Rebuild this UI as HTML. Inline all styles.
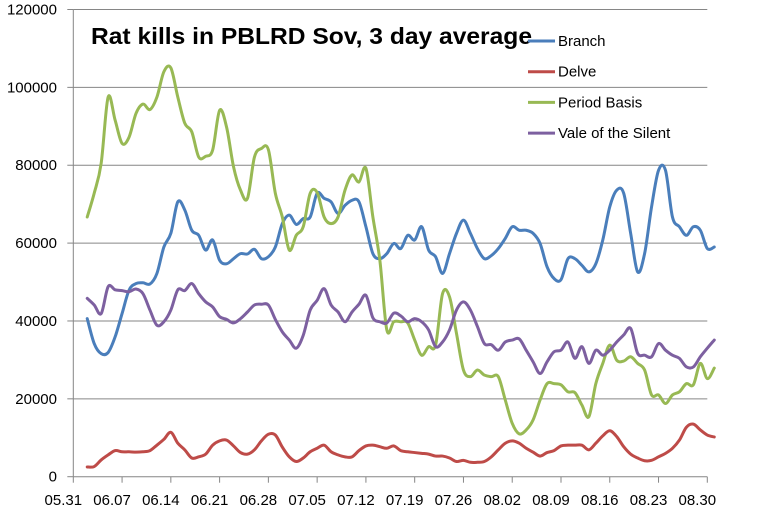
<!DOCTYPE html>
<html><head><meta charset="utf-8"><style>
body{margin:0;background:#fff;}
svg{display:block;font-family:"Liberation Sans",sans-serif;}
</style></head><body>
<svg id="chart" width="761" height="515" viewBox="0 0 761 515" xmlns="http://www.w3.org/2000/svg">
<rect width="761" height="515" fill="#fff"/>
<g id="grid"></g><g id="axes"></g><g id="series"></g>
<text x="91" y="44" font-size="23" font-weight="bold" textLength="441" lengthAdjust="spacingAndGlyphs" fill="#000">Rat kills in PBLRD Sov, 3 day average</text>
<g id="legend"></g>
</svg>
<script>
const seriesNames = ["Branch","Delve","Period Basis","Vale of the Silent"];
const seriesColors = ["#4a7ebb","#be4b48","#98b954","#7d60a0"];
const yTicks = [0,20000,40000,60000,80000,100000,120000];
const xTickLabels = ["05.31","06.07","06.14","06.21","06.28","07.05","07.12","07.19","07.26","08.02","08.09","08.16","08.23","08.30"];
const startOffsetDays = 2; // first point is 06.02
const branch = [40600,34200,31600,31900,35900,41900,47900,49600,49800,49500,52200,59000,62500,70600,68500,63300,62000,58200,60800,55600,54700,56000,57300,57200,58400,56000,56500,59000,65000,67200,64800,66300,66700,72800,71500,70600,67600,69700,71000,70600,64200,57300,56000,57300,59900,58600,62000,60800,64200,58200,56500,52200,57300,62500,65900,62500,58600,56000,56800,58600,61200,64200,63300,63300,62500,59900,53900,50900,50600,56000,56000,54300,52600,54700,60800,69300,73600,72800,62500,52600,57300,69300,78700,78700,66700,64200,62000,64200,63300,58600,59000];
const delve = [2500,2600,4300,5600,6700,6400,6400,6300,6400,6700,8100,9600,11400,8600,6900,4800,5100,5800,8100,9200,9400,7900,6200,5800,6900,9200,10900,10700,7600,5100,3900,4800,6400,7300,8100,6400,5600,5100,5100,6700,7900,8100,7700,7300,7900,6700,6400,6200,6000,5800,5300,5300,4800,3900,4200,3700,3700,3900,5100,6900,8600,9200,8600,7300,6300,5300,6200,6700,7900,8100,8100,8100,6900,8600,10500,11800,10300,7700,5800,4800,4100,4200,5100,6000,7300,9400,12700,13500,12000,10700,10200];
const periodBasis = [66700,72800,80500,97500,91600,85600,87200,93300,95700,94300,97500,104000,105000,97500,90800,88600,82100,82300,83900,94100,89800,79600,73600,71500,82100,84300,84000,72800,66700,58200,62000,64200,72800,73000,66700,65000,66700,73600,77500,75700,79200,66700,55600,37700,39800,39800,39500,35100,31200,33400,33800,47000,46200,36800,27400,25700,27400,26100,25700,25700,19700,13700,11000,12000,14600,19700,23900,23900,23600,21800,21600,18400,15400,23900,29100,33800,29900,29700,30800,29100,27400,21000,21000,18800,21000,21800,23900,23600,29100,25200,27900];
const vale = [45800,44100,41900,48800,48000,47800,47500,48200,47000,42800,38900,39800,42800,48000,47800,49600,47000,44900,43600,41100,40400,39500,40600,42300,44100,44300,44100,40400,37200,35100,33000,36300,42800,45300,48300,44100,42300,39800,42300,44300,46600,40800,39800,39500,42000,41300,39800,40600,39800,37700,33400,34600,37700,42800,44900,42800,38600,34200,33900,32500,34600,35100,35400,32500,29500,26500,29500,32100,32500,34600,30400,33400,29100,32500,31200,32500,34600,36400,38100,31700,31200,30800,34200,32500,31200,30400,28200,28200,30800,33000,35100];
const allSeries = [branch, delve, periodBasis, vale];

const NS="http://www.w3.org/2000/svg";
const X0=73.3, X1=707.3, Y0=476.7, Y1=9.5, YMAX=120000;
const pxPerDay=(X1-X0)/91;
function xScale(day){return X0+day*pxPerDay;}
function yScale(v){return Y0-(v/YMAX)*(Y0-Y1);}
function mk(tag,attrs,parent){const e=document.createElementNS(NS,tag);for(const k in attrs)e.setAttribute(k,attrs[k]);parent.appendChild(e);return e;}

const grid=document.getElementById('grid'), axes=document.getElementById('axes'), ser=document.getElementById('series'), leg=document.getElementById('legend');
yTicks.forEach(t=>{
  const y=yScale(t);
  if(t>0){const l=mk('line',{x1:X0,x2:X1,y1:y,y2:y,stroke:'#868686','stroke-width':1},grid);
  
  }
  const tk=mk('line',{x1:X0-6,x2:X0,y1:y,y2:y,stroke:'#868686'},axes);
  
  
  const tx=mk('text',{x:57,y:y+5,'text-anchor':'end','font-size':15,fill:'#000'},axes);
  tx.textContent=t;
  
  
});
const ya=mk('line',{x1:X0,x2:X0,y1:Y1,y2:Y0,stroke:'#868686'},axes);


const xa=mk('line',{x1:X0,x2:X1,y1:Y0,y2:Y0,stroke:'#868686'},axes);


xTickLabels.forEach((lab,k)=>{
  const x=xScale(k*7);
  const tk=mk('line',{x1:x,x2:x,y1:Y0,y2:Y0+6,stroke:'#868686'},axes);
  
  
  const tx=mk('text',{x:x-10,y:505,'text-anchor':'middle','font-size':15,fill:'#000'},axes);
  tx.textContent=lab;
  
  
});
function smoothPath(pts){
  let d='M'+pts[0][0].toFixed(2)+','+pts[0][1].toFixed(2);
  for(let i=0;i<pts.length-1;i++){
    const p0=pts[Math.max(0,i-1)],p1=pts[i],p2=pts[i+1],p3=pts[Math.min(pts.length-1,i+2)];
    const c1=[p1[0]+(p2[0]-p0[0])/6,p1[1]+(p2[1]-p0[1])/6];
    const c2=[p2[0]-(p3[0]-p1[0])/6,p2[1]-(p3[1]-p1[1])/6];
    d+=' C'+c1[0].toFixed(2)+','+c1[1].toFixed(2)+' '+c2[0].toFixed(2)+','+c2[1].toFixed(2)+' '+p2[0].toFixed(2)+','+p2[1].toFixed(2);
  }
  return d;
}
allSeries.forEach((vals,s)=>{
  const pts=vals.map((v,i)=>[xScale(startOffsetDays+i),yScale(v)]);
  const p=mk('path',{d:smoothPath(pts),fill:'none',stroke:seriesColors[s],'stroke-width':3,'stroke-linejoin':'round','stroke-linecap':'round'},ser);
  
  
});
seriesNames.forEach((n,s)=>{
  const y=41+s*30.7;
  const l=mk('line',{x1:528,x2:555,y1:y,y2:y,stroke:seriesColors[s],'stroke-width':3},leg);
  
  
  const t=mk('text',{x:558,y:y+5,'font-size':15,fill:'#000'},leg);
  t.textContent=n;
  
  
});
</script>
</body></html>
